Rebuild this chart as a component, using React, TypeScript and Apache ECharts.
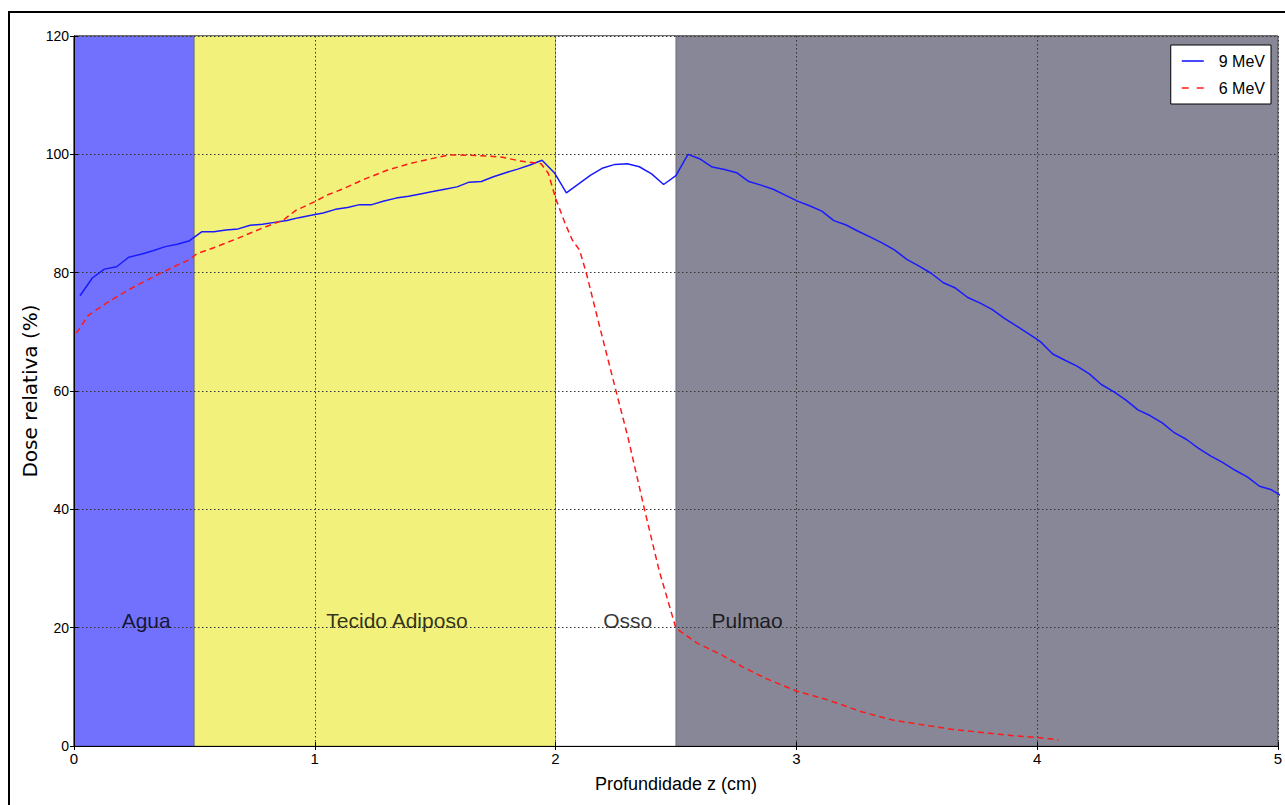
import React, { useEffect, useRef } from "react";
import * as echarts from "echarts";

// 9 MeV profile: depth (cm) and relative dose (%)
const depth9 = [
  0.025, 0.076, 0.126, 0.177, 0.227, 0.278, 0.328, 0.379, 0.429, 0.480,
  0.530, 0.581, 0.631, 0.682, 0.732, 0.783, 0.833, 0.884, 0.934, 0.985,
  1.035, 1.086, 1.136, 1.187, 1.237, 1.288, 1.338, 1.389, 1.439, 1.490,
  1.540, 1.591, 1.641, 1.692, 1.742, 1.793, 1.843, 1.894, 1.944, 1.995,
  2.045, 2.096, 2.146, 2.197, 2.247, 2.298, 2.348, 2.399, 2.449, 2.500,
  2.550, 2.601, 2.651, 2.702, 2.752, 2.803, 2.853, 2.904, 2.954, 3.005,
  3.055, 3.106, 3.156, 3.207, 3.257, 3.308, 3.358, 3.409, 3.459, 3.510,
  3.560, 3.611, 3.661, 3.712, 3.762, 3.813, 3.863, 3.914, 3.964, 4.015,
  4.065, 4.116, 4.166, 4.217, 4.267, 4.318, 4.368, 4.419, 4.469, 4.520,
  4.570, 4.621, 4.671, 4.722, 4.772, 4.823, 4.873, 4.924, 4.974, 5.025,
];
const dose9 = [
  76.1, 79.1, 80.6, 81.0, 82.6, 83.1, 83.7, 84.4, 84.8, 85.4,
  86.9, 86.9, 87.2, 87.4, 88.0, 88.2, 88.5, 88.8, 89.3, 89.7,
  90.1, 90.7, 91.0, 91.5, 91.5, 92.1, 92.6, 92.9, 93.3, 93.7,
  94.1, 94.5, 95.3, 95.4, 96.2, 96.9, 97.5, 98.2, 99.0, 96.9,
  93.5, 95.0, 96.5, 97.7, 98.3, 98.4, 97.9, 96.7, 94.9, 96.4,
  100.0, 99.2, 97.85, 97.45, 96.9, 95.4, 94.8, 94.1, 93.1, 92.1,
  91.3, 90.4, 88.8, 88.05, 87.0, 86.0, 85.0, 83.8, 82.25, 81.1,
  79.9, 78.3, 77.4, 75.8, 74.9, 73.8, 72.3, 71.0, 69.7, 68.3,
  66.25, 65.2, 64.2, 62.9, 61.1, 59.9, 58.5, 56.8, 55.85, 54.6,
  52.95, 51.8, 50.3, 49.0, 47.9, 46.6, 45.5, 43.9, 43.3, 42.0,
];

// 6 MeV profile
const depth6 = [
  0.01, 0.06, 0.14, 0.23, 0.33, 0.43, 0.48, 0.51, 0.58, 0.68,
  0.78, 0.87, 0.92, 1.0, 1.05, 1.12, 1.2, 1.3, 1.4, 1.5,
  1.56, 1.64, 1.72, 1.78, 1.85, 1.94, 1.97, 2.0, 2.04, 2.07,
  2.1, 2.13, 2.18, 2.25, 2.3, 2.37, 2.43, 2.49, 2.5, 2.59,
  2.69, 2.78, 2.88, 3.0, 3.13, 3.27, 3.4, 3.53, 3.65, 3.78,
  3.9, 4.0, 4.09,
];
const dose6 = [
  69.8, 72.8, 75.0, 77.2, 79.3, 81.3, 82.2, 83.2, 84.2, 85.8,
  87.5, 88.9, 90.5, 92.0, 93.1, 94.2, 95.7, 97.3, 98.5, 99.4,
  99.9, 99.85, 99.7, 99.5, 98.9, 98.4, 96.8, 92.6, 88.3, 85.5,
  83.8, 79.6, 71.4, 60.2, 52.3, 39.9, 29.7, 21.3, 19.9, 17.35,
  15.4, 13.3, 11.3, 9.3, 7.8, 5.8, 4.4, 3.55, 2.8, 2.25,
  1.75, 1.45, 1.05,
];

// Tissue regions
const regionNames = ["Agua", "Tecido Adiposo", "Osso", "Pulmao"];
const regionStart = [0, 0.5, 2.0, 2.5];
const regionEnd = [0.5, 2.0, 2.5, 5.0];
const regionColors = ["#7171fe", "#f1f17b", "#ffffff", "#888797"];
const labelX = [0.2, 1.05, 2.2, 2.65];
const labelY = [20, 20, 20, 20];

const seriesNames = ["9 MeV", "6 MeV"];

export default function App() {
  const ref = useRef<HTMLDivElement>(null);

  useEffect(() => {
    document.body.style.margin = "0";
    if (!ref.current) return;
    const chart = echarts.init(ref.current, null, { renderer: "svg" });

    const tickFont = "Liberation Sans";
    const axisCommon = {
      type: "value" as const,
      z: 2,
      axisLine: { show: true, lineStyle: { color: "#000", width: 1 } },
      axisTick: { show: true, inside: true, length: 4, lineStyle: { color: "#000" } },
    };

    const option: any = {
      animation: false,
      backgroundColor: "#fff",
      grid: {
        left: 74,
        top: 36,
        width: 1204,
        height: 710,
        show: true,
        borderColor: "#000",
        borderWidth: 1,
        backgroundColor: "transparent",
      },
      legend: {
        data: [
          { name: seriesNames[0], icon: "path://M0,0h22v1.6h-22z" },
          { name: seriesNames[1], icon: "path://M0,0h7v1.6h-7z M15,0h7v1.6h-7z" },
        ],
        orient: "vertical",
        right: 14,
        top: 45,
        itemWidth: 22,
        itemHeight: 14,
        itemGap: 11,
        padding: [8, 6, 8, 11],
        backgroundColor: "#fff",
        borderColor: "#000",
        borderWidth: 1,
        borderRadius: 0,
        textStyle: {
          fontFamily: tickFont,
          fontSize: 16,
          lineHeight: 16,
          color: "#000",
          padding: [0, 0, 0, 10],
        },
        z: 10,
      },
      xAxis: [
        {
          ...axisCommon,
          position: "bottom",
          min: 0,
          max: 5,
          interval: 1,
          name: "Profundidade z (cm)",
          nameLocation: "middle",
          nameGap: 29,
          nameMoveOverlap: false,
          nameTextStyle: { fontFamily: tickFont, fontSize: 18, color: "#000" },
          axisLabel: { fontFamily: tickFont, fontSize: 15, color: "#000", margin: 5 },
          splitLine: {
            show: true,
            lineStyle: { color: "#333", width: 1, type: [1.5, 2.5] },
          },
        },
        {
          ...axisCommon,
          position: "top",
          min: 0,
          max: 5,
          interval: 1,
          axisLabel: { show: false },
          splitLine: { show: false },
        },
      ],
      yAxis: [
        {
          ...axisCommon,
          position: "left",
          min: 0,
          max: 120,
          interval: 20,
          name: "Dose relativa (%)",
          nameLocation: "middle",
          nameGap: 34,
          nameMoveOverlap: false,
          nameTextStyle: { fontFamily: "DejaVu Sans", fontSize: 20, color: "#000" },
          axisLabel: { fontFamily: tickFont, fontSize: 14, color: "#000", margin: 5 },
          splitLine: {
            show: true,
            lineStyle: { color: "#333", width: 1, type: [1.5, 2.5] },
          },
        },
        {
          ...axisCommon,
          position: "right",
          min: 0,
          max: 120,
          interval: 20,
          axisLabel: { show: false },
          splitLine: { show: false },
        },
      ],
      series: [
        {
          name: "regions",
          type: "line",
          data: [],
          z: 1,
          silent: true,
          markArea: {
            silent: true,
            label: { show: false },
            data: regionNames.map((n, i) => [
              {
                name: n,
                xAxis: regionStart[i],
                itemStyle: {
                  color: regionColors[i],
                  borderColor: "rgba(0,0,0,0.25)",
                  borderWidth: 1,
                },
              },
              { xAxis: regionEnd[i] },
            ]),
          },
        },
        {
          name: seriesNames[0],
          type: "line",
          z: 3,
          symbol: "none",
          clip: true,
          lineStyle: { color: "#1a1aff", width: 1.5, type: "solid" },
          itemStyle: { color: "#1a1aff" },
          data: depth9.map((d, i) => [d, dose9[i]]),
        },
        {
          name: seriesNames[1],
          type: "line",
          z: 3,
          symbol: "none",
          clip: true,
          lineStyle: { color: "#ff1a1a", width: 1.5, type: [6, 4] },
          itemStyle: { color: "#ff1a1a" },
          data: depth6.map((d, i) => [d, dose6[i]]),
        },
        {
          name: "labels",
          type: "scatter",
          z: 4,
          silent: true,
          symbolSize: 1,
          itemStyle: { color: "rgba(0,0,0,0)" },
          label: {
            show: true,
            position: [0, 4],
            align: "left",
            verticalAlign: "bottom",
            formatter: (p: any) => regionNames[p.dataIndex],
            fontFamily: tickFont,
            fontSize: 21,
            color: "#000",
          },
          labelLayout: { hideOverlap: false },
          data: labelX.map((x, i) => [x, labelY[i]]),
        },
      ],
      graphic: [
        {
          type: "rect",
          silent: true,
          z: 100,
          shape: { x: 9, y: 12, width: 1320, height: 860 },
          style: { fill: "none", stroke: "#000", lineWidth: 2 },
        },
      ],
    };

    chart.setOption(option);
    return () => chart.dispose();
  }, []);

  return <div ref={ref} style={{ width: 1285, height: 805 }} />;
}
